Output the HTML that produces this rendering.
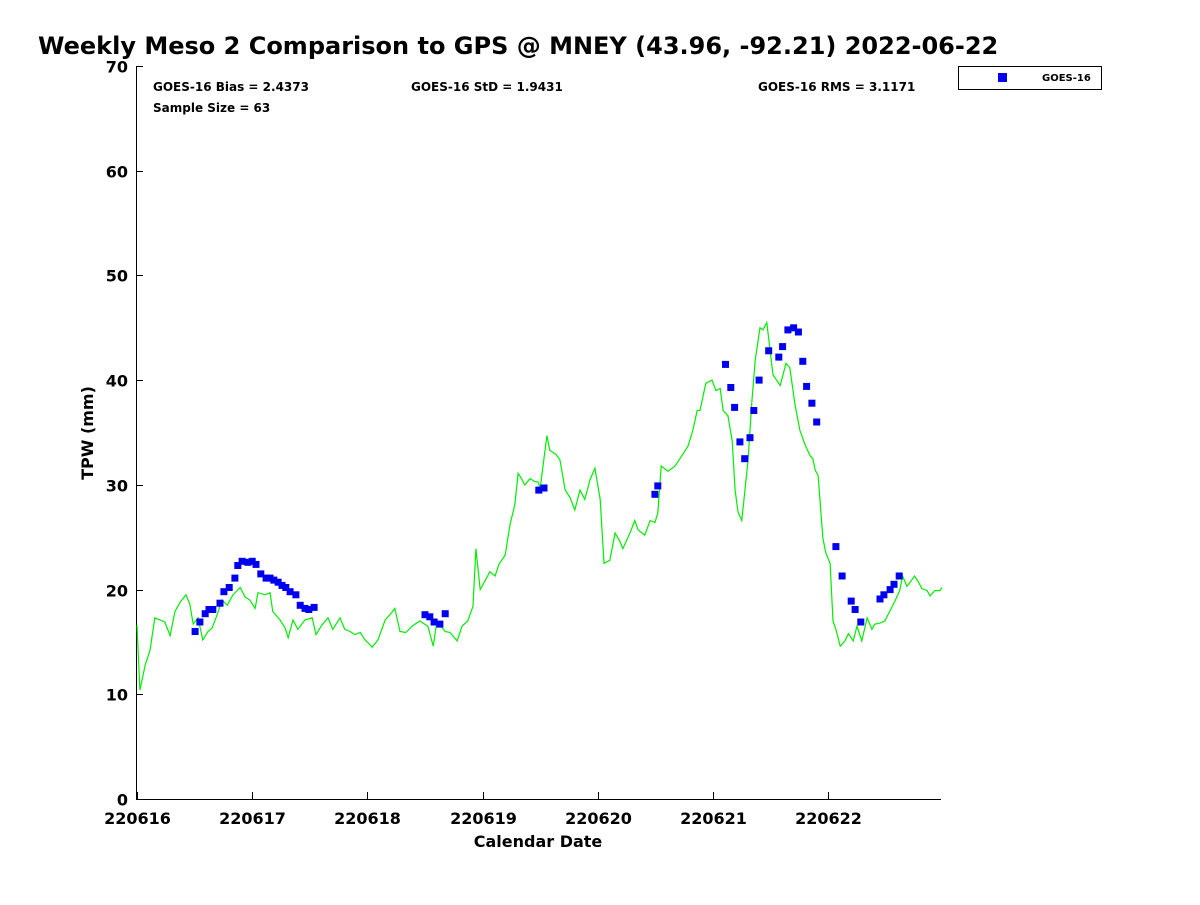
<!DOCTYPE html>
<html><head><meta charset="utf-8"><style>
body{margin:0;background:#fff;font-family:"Liberation Sans",sans-serif}
svg text{font-family:"DejaVu Sans","Liberation Sans",sans-serif;font-weight:bold}
</style></head><body>
<svg id="c" width="1200" height="900" xmlns="http://www.w3.org/2000/svg">
<text x="38" y="54" font-size="24">Weekly Meso 2 Comparison to GPS @ MNEY (43.96, -92.21) 2022-06-22</text>
<text x="153" y="91" font-size="12">GOES-16 Bias = 2.4373</text>
<text x="411" y="91" font-size="12">GOES-16 StD = 1.9431</text>
<text x="758" y="91" font-size="12">GOES-16 RMS = 3.1171</text>
<text x="153" y="112" font-size="12">Sample Size = 63</text>
<g>
<rect x="958.5" y="66.5" width="143" height="23" fill="#fff" stroke="#000" stroke-width="1"/>
<rect x="998" y="73" width="9" height="9" fill="#0000ee"/>
<text x="1042" y="81" font-size="10">GOES-16</text>
</g>
<text transform="translate(93,433) rotate(-90)" text-anchor="middle" font-size="16">TPW (mm)</text>
<text x="538" y="847" text-anchor="middle" font-size="16">Calendar Date</text>
<g id="axes"></g>
<g id="marks"></g>
</svg>
<script>
const yTicks=[0,10,20,30,40,50,60,70];
const xTickLabels=["220616","220617","220618","220619","220620","220621","220622"];
const gpsHours=[0,0.6,1.7,2.7,3.7,4.8,5.8,6.9,7.9,9.0,10.2,11.0,11.7,12.7,13.7,14.8,15.6,16.7,17.7,18.8,20.0,21.5,22.5,23.5,24.6,25.2,26.7,27.7,28.3,29.8,30.8,31.5,32.5,33.5,35.0,36.5,37.3,38.5,39.8,40.8,42.3,43.3,44.4,45.4,46.5,47.5,49.0,50.2,51.7,52.7,53.7,54.8,56.0,57.3,58.9,60.6,61.7,62.5,64.2,65.2,66.7,67.7,68.9,70.0,70.6,71.5,72.7,73.5,74.6,75.4,76.7,77.7,78.7,79.4,80.2,80.8,81.9,82.9,83.5,84.0,85.4,86.0,87.3,88.1,89.2,90.2,91.2,92.3,93.3,94.4,95.4,96.5,97.3,98.5,99.6,100.6,101.2,102.7,103.7,104.4,105.8,106.9,107.9,108.5,109.2,110.6,112.1,113.1,114.8,115.8,116.7,117.3,118.5,119.8,120.6,121.5,122.1,123.1,124.0,124.6,125.2,126.0,127.3,128.1,128.8,129.8,130.4,131.2,132.5,134.0,135.2,136.0,137.1,138.1,139.2,140.2,140.8,141.3,141.9,142.9,143.5,144.4,145.0,145.6,146.5,147.5,148.2,149.2,150.0,151.0,152.1,153.1,153.7,154.8,155.8,156.8,157.9,158.9,159.5,160.4,161.2,162.0,162.7,163.5,164.6,165.2,166.2,167.3,167.7];
const gpsValues=[16.6,10.4,12.8,14.2,17.3,17.1,16.9,15.6,17.9,18.8,19.5,18.6,16.7,17.3,15.2,16.0,16.3,17.6,19.0,18.5,19.5,20.2,19.3,19.0,18.2,19.7,19.5,19.7,17.9,17.1,16.4,15.4,17.1,16.2,17.1,17.3,15.7,16.6,17.3,16.2,17.3,16.2,16.0,15.7,15.9,15.2,14.5,15.2,17.1,17.6,18.2,16.0,15.9,16.5,17.0,16.5,14.6,17.0,16.0,15.9,15.1,16.5,17.0,18.4,23.9,20.0,21.0,21.7,21.3,22.4,23.3,26.2,28.1,31.1,30.5,30.0,30.6,30.3,30.3,29.7,34.7,33.3,32.9,32.4,29.5,28.8,27.6,29.5,28.6,30.5,31.6,28.6,22.5,22.8,25.4,24.6,23.9,25.4,26.6,25.7,25.2,26.6,26.4,27.3,31.8,31.3,31.8,32.5,33.7,35.2,37.1,37.1,39.7,40.0,39.0,39.2,37.1,36.6,34.2,29.5,27.4,26.6,32.3,38.0,41.9,45.0,44.8,45.5,40.5,39.5,41.6,41.2,37.6,35.2,33.8,32.8,32.5,31.4,30.9,24.9,23.5,22.5,17.0,16.2,14.6,15.1,15.8,15.1,16.5,15.1,17.3,16.2,16.7,16.8,17.0,17.9,18.9,19.9,21.3,20.3,20.8,21.3,20.8,20.1,19.9,19.4,19.9,19.9,20.2];
const goesHours=[12.1,13.1,14.2,15.0,15.8,17.3,18.1,19.2,20.4,21.0,21.9,23.1,24.0,24.8,25.8,26.9,27.7,28.5,29.4,30.2,31.0,31.9,33.1,34.0,35.0,35.8,36.9,60.0,61.0,61.9,63.1,64.2,83.7,84.8,107.9,108.5,122.6,123.7,124.5,125.6,126.6,127.7,128.5,129.6,131.6,133.7,134.5,135.6,136.8,137.8,138.7,139.5,140.6,141.6,145.6,146.9,148.8,149.6,150.8,154.8,155.6,156.9,157.7,158.8];
const goesValues=[16.0,16.9,17.7,18.1,18.1,18.7,19.8,20.2,21.1,22.3,22.7,22.6,22.7,22.4,21.5,21.1,21.1,20.9,20.7,20.4,20.2,19.8,19.5,18.5,18.2,18.1,18.3,17.6,17.4,16.9,16.7,17.7,29.5,29.7,29.1,29.9,41.5,39.3,37.4,34.1,32.5,34.5,37.1,40.0,42.8,42.2,43.2,44.8,45.0,44.6,41.8,39.4,37.8,36.0,24.1,21.3,18.9,18.1,16.9,19.1,19.5,20.0,20.5,21.3];

const NS="http://www.w3.org/2000/svg";
const L=136,R=941,T=66,B=799;
const xS=h=>137+h*(115.2/24);
const yS=v=>B-(v/70)*(B-T);
const axes=document.getElementById('axes'),marks=document.getElementById('marks');
function mk(tag,attrs,parent){const e=document.createElementNS(NS,tag);for(const k in attrs)e.setAttribute(k,attrs[k]);parent.appendChild(e);return e;}
let a=mk('line',{x1:L+0.5,y1:T,x2:L+0.5,y2:B+0.5,stroke:'#000','stroke-width':1},axes);


a=mk('line',{x1:L,y1:B+0.5,x2:R,y2:B+0.5,stroke:'#000','stroke-width':1},axes);


yTicks.forEach(v=>{
 const y=Math.round(yS(v))+0.5;
 const t=mk('line',{x1:L,y1:y,x2:L+7,y2:y,stroke:'#000'},axes);
 
 
 const tx=mk('text',{x:128,y:y+6,'text-anchor':'end','font-size':16},axes);
 tx.textContent=v;
 
 
});
xTickLabels.forEach((lab,i)=>{
 const x=Math.round(xS(i*24))+0.5;
 const t=mk('line',{x1:x,y1:B,x2:x,y2:B-7,stroke:'#000'},axes);
 
 
 const tx=mk('text',{x:x,y:824,'text-anchor':'middle','font-size':16},axes);
 tx.textContent=lab;
 
 
});
const pts=gpsHours.map((h,i)=>xS(h).toFixed(1)+','+yS(gpsValues[i]).toFixed(1)).join(' ');
const pl=mk('polyline',{points:pts,fill:'none',stroke:'#00ee00','stroke-width':1.2},marks);


goesHours.forEach((h,i)=>{
 const r=mk('rect',{x:(xS(h)-3.5).toFixed(1),y:(yS(goesValues[i])-3.5).toFixed(1),width:7,height:7,fill:'#0000ee'},marks);
 
 
});
</script>
</body></html>
